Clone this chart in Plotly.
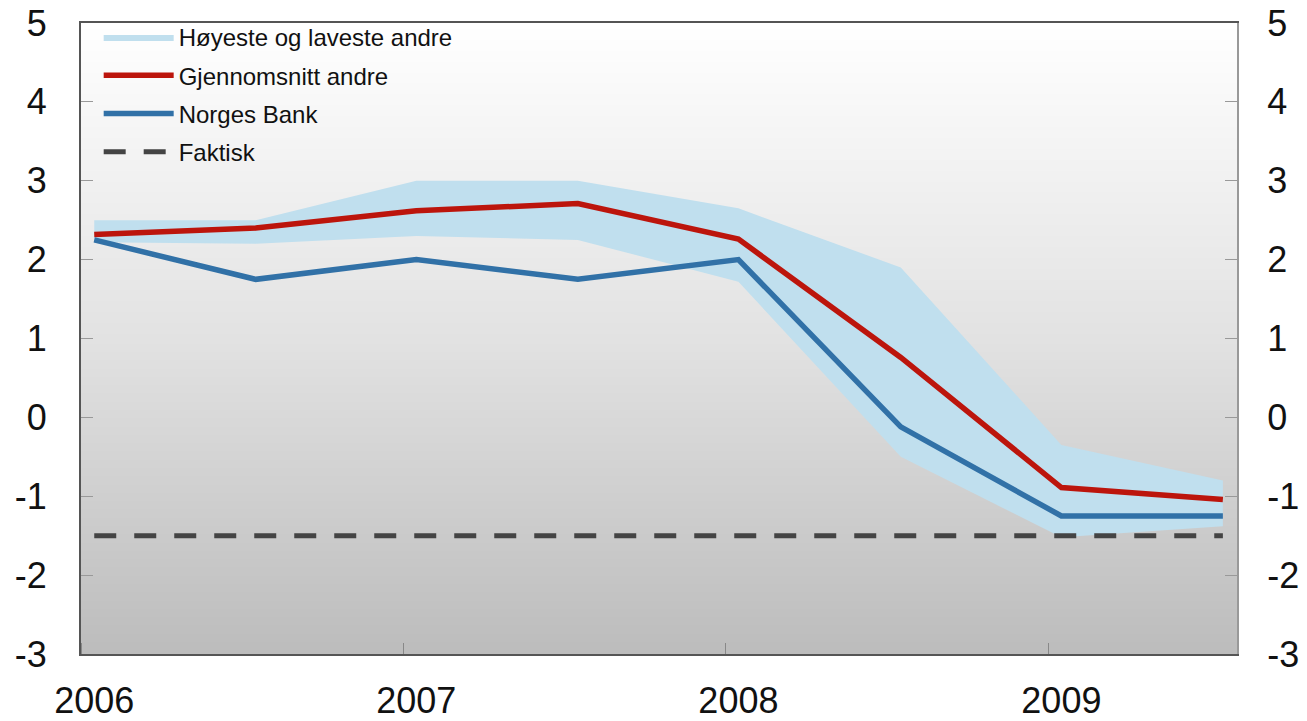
import plotly.graph_objects as go

# ---- data ----
dates = ["2006-01-16", "2006-07-18", "2007-01-16", "2007-07-18",
         "2008-01-16", "2008-07-18", "2009-01-16", "2009-07-18"]
band_high = [2.5, 2.5, 3.0, 3.0, 2.65, 1.9, -0.35, -0.8]
band_low = [2.22, 2.2, 2.3, 2.25, 1.72, -0.5, -1.52, -1.38]
avg_others = [2.32, 2.4, 2.62, 2.71, 2.26, 0.76, -0.89, -1.04]
norges_bank = [2.25, 1.75, 2.0, 1.75, 2.0, -0.12, -1.25, -1.25]
actual = [-1.5, -1.5, -1.5, -1.5, -1.5, -1.5, -1.5, -1.5]
year_tickvals = ["2006-01-16", "2007-01-16", "2008-01-16", "2009-01-16"]
year_ticktext = ["2006", "2007", "2008", "2009"]
y_tickvals = [-3, -2, -1, 0, 1, 2, 3, 4, 5]
y_ticktext = ["-3", "-2", "-1", "0", "1", "2", "3", "4", "5"]

X_RANGE = ["2006-01-01", "2009-08-03"]
Y_RANGE = [-3, 5]

FONT = "Liberation Sans, Arial, sans-serif"
RED = "#BC150C"
BLUE = "#3171A7"
BAND = "#C0DFEE"
DARK = "#444444"

fig = go.Figure()

# gradient background (heatmap spanning the axis ranges)
fig.add_trace(go.Heatmap(
    x=X_RANGE, y=[Y_RANGE[0], (Y_RANGE[0] + Y_RANGE[1]) / 2, Y_RANGE[1]],
    z=[[0, 0], [0.5, 0.5], [1, 1]], zmin=0, zmax=1,
    colorscale=[[0, "#bcbcbc"], [0.5, "#e2e2e2"], [1, "#ffffff"]],
    zsmooth="best", showscale=False, hoverinfo="skip", showlegend=False,
))

fig.add_trace(go.Scatter(
    x=dates, y=band_low, mode="lines", line=dict(width=0, color=BAND),
    showlegend=False, hoverinfo="skip", legendgroup="a",
))
fig.add_trace(go.Scatter(
    x=dates, y=band_high, mode="lines", line=dict(width=0, color=BAND),
    fill="tonexty", fillcolor=BAND, name="Høyeste og laveste andre",
    legendgroup="a",
))
fig.add_trace(go.Scatter(
    x=dates, y=avg_others, mode="lines", line=dict(width=5.5, color=RED),
    name="Gjennomsnitt andre", legendgroup="b",
))
fig.add_trace(go.Scatter(
    x=dates, y=norges_bank, mode="lines", line=dict(width=5.5, color=BLUE),
    name="Norges Bank", legendgroup="c",
))
fig.add_trace(go.Scatter(
    x=dates, y=actual, mode="lines",
    line=dict(width=5, color=DARK, dash="22px,18px"),
    name="Faktisk", legendgroup="d",
))
# invisible trace to carry the right-hand axis
fig.add_trace(go.Scatter(
    x=dates, y=actual, yaxis="y2", mode="lines", line=dict(width=0),
    opacity=0, showlegend=False, hoverinfo="skip",
))

tickfont = dict(family=FONT, size=36, color="#111111")

fig.update_layout(
    width=1299, height=713,
    margin=dict(l=73, r=70, t=15, b=67, autoexpand=False),
    paper_bgcolor="white", plot_bgcolor="white",
    font=dict(family=FONT),
    showlegend=True,
    legend=dict(
        x=0.0153, y=1.0127, xanchor="left", yanchor="top",
        bgcolor="rgba(0,0,0,0)", font=dict(family=FONT, size=24, color="#111111"),
        traceorder="grouped", tracegroupgap=4, itemwidth=70,
    ),
    xaxis=dict(
        type="date", range=X_RANGE, showgrid=False, zeroline=False,
        automargin=False, ticklabeloverflow="allow",
        showline=True, linecolor="#555555", linewidth=2, mirror=True,
        tickvals=year_tickvals, ticktext=year_ticktext, ticks="",
        tickfont=tickfont, ticklabelstandoff=14,
        minor=dict(dtick="M12", tick0="2006-01-01", ticks="inside",
                   ticklen=11, tickcolor="#888888", tickwidth=1, showgrid=False),
    ),
    yaxis=dict(
        range=Y_RANGE, tickvals=y_tickvals, ticktext=y_ticktext,
        showgrid=False, zeroline=False, automargin=False,
        ticklabeloverflow="allow",
        showline=True, linecolor="#555555", linewidth=2,
        ticks="inside", ticklen=12, tickcolor="#999999",
        tickfont=tickfont, ticklabelstandoff=25,
    ),
    yaxis2=dict(
        range=Y_RANGE, tickvals=y_tickvals, ticktext=y_ticktext,
        overlaying="y", side="right", automargin=False,
        ticklabeloverflow="allow",
        showgrid=False, zeroline=False,
        showline=True, linecolor="#999999", linewidth=2,
        ticks="inside", ticklen=12, tickcolor="#999999",
        tickfont=tickfont, ticklabelstandoff=21,
    ),
)

fig.write_html("out.html")
